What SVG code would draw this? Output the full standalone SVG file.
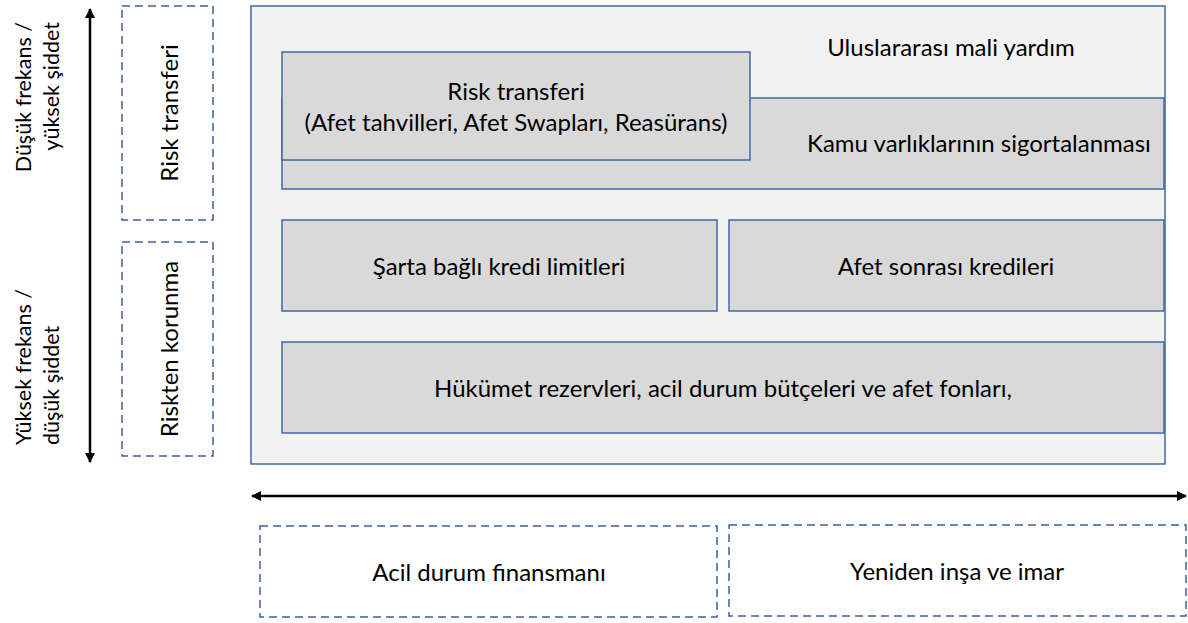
<svg xmlns="http://www.w3.org/2000/svg" width="1188" height="623" viewBox="0 0 1188 623">
<style>
text{font-family:Lato,"Liberation Sans",Arial,sans-serif;font-size:24px;fill:#000;text-anchor:middle}
.axl{font-size:21.5px}
.solid{fill:#d9d9d9;stroke:#4267a8;stroke-width:1.5}
.dash{fill:#fff;stroke:#3f5f9f;stroke-width:1.5;stroke-dasharray:8,5}
.ax{stroke:#000;stroke-width:2.5;fill:none}
</style>
<defs>
<marker id="ah" viewBox="0 0 10 10" refX="9" refY="5" markerWidth="4" markerHeight="4" orient="auto-start-reverse">
<path d="M0,0 L10,5 L0,10 Z" fill="#000"/>
</marker>
</defs>
<rect width="1188" height="623" fill="#fff"/>
<g id="outer">
<rect x="251" y="6" width="914" height="458" fill="#f2f2f2" stroke="#4267a8" stroke-width="1.5"/>
<text x="951" y="56">Uluslararası mali yardım</text>
</g>
<g id="kamu">
<rect class="solid" x="282" y="98" width="882" height="91"/>
<text x="979" y="152">Kamu varlıklarının sigortalanması</text>
</g>
<g id="risk-transferi-box">
<rect class="solid" x="282" y="52" width="468" height="108"/>
<text x="516" y="100">Risk transferi</text>
<text x="516" y="131">(Afet tahvilleri, Afet Swapları, Reasürans)</text>
</g>
<g id="sarta">
<rect class="solid" x="282" y="220" width="435" height="91"/>
<text x="499" y="275">Şarta bağlı kredi limitleri</text>
</g>
<g id="afet-sonrasi">
<rect class="solid" x="729" y="220" width="435" height="91"/>
<text x="946" y="275">Afet sonrası kredileri</text>
</g>
<g id="hukumet">
<rect class="solid" x="282" y="342" width="882" height="91"/>
<text x="723" y="397">Hükümet rezervleri, acil durum bütçeleri ve afet fonları,</text>
</g>
<g id="left-risk-transferi">
<rect class="dash" x="122" y="6" width="91" height="214"/>
<text transform="translate(178,113) rotate(-90)">Risk transferi</text>
</g>
<g id="left-riskten-korunma">
<rect class="dash" x="122" y="242" width="91" height="214"/>
<text transform="translate(178,349) rotate(-90)">Riskten korunma</text>
</g>
<g id="axis-labels">
<text class="axl" style="text-anchor:end" transform="translate(31,22) rotate(-90)">Düşük frekans /</text>
<text class="axl" style="text-anchor:end" transform="translate(59,22) rotate(-90)">yüksek şiddet</text>
<text class="axl" style="text-anchor:start" transform="translate(31,445) rotate(-90)">Yüksek frekans /</text>
<text class="axl" style="text-anchor:start" transform="translate(59,445) rotate(-90)">düşük şiddet</text>
</g>
<g id="acil">
<rect class="dash" x="260" y="526" width="457" height="91"/>
<text x="489" y="581">Acil durum finansmanı</text>
</g>
<g id="yeniden">
<rect class="dash" x="729" y="525" width="457" height="91"/>
<text x="957" y="580">Yeniden inşa ve imar</text>
</g>
<g id="connectors">
<line class="ax" x1="90" y1="9" x2="90" y2="462" marker-start="url(#ah)" marker-end="url(#ah)"/>
<line class="ax" x1="252" y1="496" x2="1186" y2="496" marker-start="url(#ah)" marker-end="url(#ah)"/>
</g>
</svg>
